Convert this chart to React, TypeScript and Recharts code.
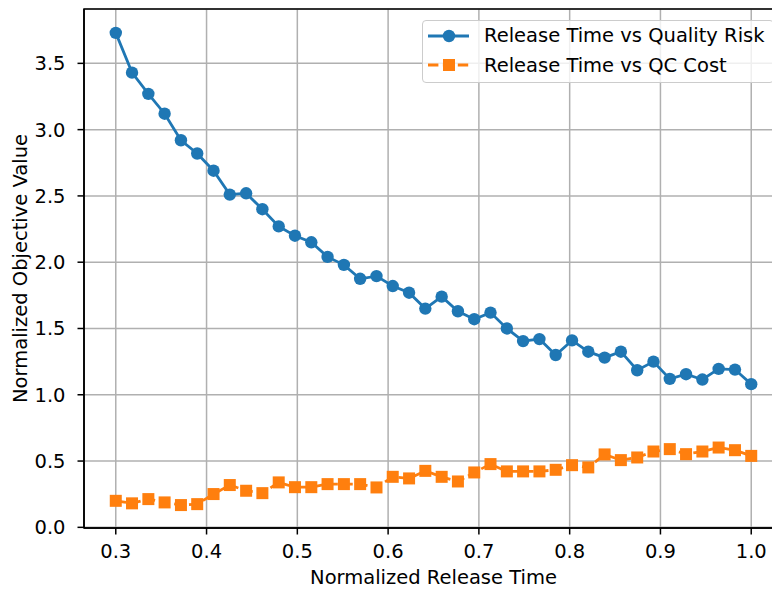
import React from 'react';
import { LineChart, Line, XAxis, YAxis, CartesianGrid, ReferenceArea } from 'recharts';

const releaseTime = [
  0.3, 0.3179, 0.3359, 0.3538, 0.3718, 0.3897, 0.4077, 0.4256, 0.4436, 0.4615,
  0.4795, 0.4974, 0.5154, 0.5333, 0.5513, 0.5692, 0.5872, 0.6051, 0.6231, 0.641,
  0.659, 0.6769, 0.6949, 0.7128, 0.7308, 0.7487, 0.7667, 0.7846, 0.8026, 0.8205,
  0.8385, 0.8564, 0.8744, 0.8923, 0.9103, 0.9282, 0.9462, 0.9641, 0.9821, 1.0,
];

const qualityRisk = [
  3.73, 3.43, 3.27, 3.12, 2.92, 2.82, 2.69, 2.51, 2.52, 2.4,
  2.27, 2.2, 2.15, 2.04, 1.98, 1.875, 1.895, 1.82, 1.77, 1.65,
  1.74, 1.63, 1.57, 1.62, 1.5, 1.405, 1.42, 1.3, 1.41, 1.325,
  1.28, 1.325, 1.185, 1.25, 1.12, 1.155, 1.115, 1.195, 1.19, 1.08,
];

const qcCost = [
  0.2, 0.181, 0.213, 0.188, 0.168, 0.175, 0.251, 0.319, 0.276, 0.258,
  0.339, 0.303, 0.303, 0.326, 0.326, 0.326, 0.301, 0.381, 0.369, 0.426,
  0.381, 0.346, 0.414, 0.477, 0.422, 0.422, 0.422, 0.434, 0.469, 0.452,
  0.55, 0.507, 0.527, 0.572, 0.59, 0.552, 0.572, 0.602, 0.582, 0.539,
];

const xTicks = [0.3, 0.4, 0.5, 0.6, 0.7, 0.8, 0.9, 1.0];
const yTicks = [0, 0.5, 1.0, 1.5, 2.0, 2.5, 3.0, 3.5];
const xDomain: [number, number] = [0.265, 1.035];
const yDomain: [number, number] = [-0.005, 3.91];

const BLUE = '#1f77b4';
const ORANGE = '#ff7f0e';
const FONT = '"DejaVu Sans", sans-serif';
const FS = 19.5;

const data = releaseTime.map((x, i) => ({ x, risk: qualityRisk[i], cost: qcCost[i] }));

const circleDot = (props: any) => (
  <circle key={`c-${props.index}`} cx={props.cx} cy={props.cy} r={6.2} fill={BLUE} />
);

const squareDot = (props: any) => (
  <rect key={`s-${props.index}`} x={props.cx - 6} y={props.cy - 6} width={12} height={12} fill={ORANGE} />
);

function LegendBox() {
  const row = (color: string, dash: string | undefined, square: boolean, label: string) => (
    <div style={{ display: 'flex', alignItems: 'center', height: 29.5 }}>
      <svg width={61} height={20} style={{ flex: 'none' }}>
        <line x1={5} x2={46} y1={10} y2={10} stroke={color} strokeWidth={2.8} strokeDasharray={dash} />
        {square ? (
          <rect x={20} y={4} width={12} height={12} fill={color} />
        ) : (
          <circle cx={26} cy={10} r={6.2} fill={color} />
        )}
      </svg>
      <span style={{ fontFamily: FONT, fontSize: FS, color: '#000', whiteSpace: 'nowrap' }}>{label}</span>
    </div>
  );
  return (
    <div
      style={{
        position: 'absolute',
        left: 422,
        top: 20,
        boxSizing: 'border-box',
        width: 352,
        height: 63,
        paddingTop: 0,
        background: 'rgba(255,255,255,0.8)',
        border: '1.5px solid #cccccc',
        borderRadius: 4,
      }}
    >
      {row(BLUE, undefined, false, 'Release Time vs Quality Risk')}
      {row(ORANGE, '10.4 4.5', true, 'Release Time vs QC Cost')}
    </div>
  );
}

export default function App() {
  return (
    <div style={{ position: 'fixed', left: 0, top: 0, width: 772, height: 589, overflow: 'hidden', background: '#fff' }}>
      <LineChart width={800} height={589} data={data} margin={{ top: 9, right: 17, bottom: 0, left: 0 }}>
        <CartesianGrid stroke="#b0b0b0" strokeWidth={1.5} />
        <XAxis
          dataKey="x"
          type="number"
          domain={xDomain}
          ticks={xTicks}
          allowDataOverflow
          height={61}
          tickFormatter={(v: number) => v.toFixed(1)}
          tick={{ fill: '#000', fontSize: FS, fontFamily: FONT }}
          tickSize={6.5}
          tickMargin={10}
          axisLine={{ stroke: '#000', strokeWidth: 1.5 }}
          tickLine={{ stroke: '#000', strokeWidth: 1.5 }}
          label={(p: any) => (
            <text
              x={p.viewBox.x + p.viewBox.width / 2}
              y={p.viewBox.y + p.viewBox.height - 5}
              textAnchor="middle"
              fontFamily={FONT}
              fontSize={FS}
              fill="#000"
            >
              Normalized Release Time
            </text>
          )}
        />
        <YAxis
          type="number"
          domain={yDomain}
          ticks={yTicks}
          allowDataOverflow
          width={84}
          tickFormatter={(v: number) => v.toFixed(1)}
          tick={{ fill: '#000', fontSize: FS, fontFamily: FONT }}
          tickSize={6.5}
          tickMargin={12}
          axisLine={{ stroke: '#000', strokeWidth: 1.5 }}
          tickLine={{ stroke: '#000', strokeWidth: 1.5 }}
          label={(p: any) => (
            <text
              x={20}
              y={p.viewBox.y + p.viewBox.height / 2}
              transform={`rotate(-90, 20, ${p.viewBox.y + p.viewBox.height / 2})`}
              textAnchor="middle"
              dominantBaseline="central"
              fontFamily={FONT}
              fontSize={FS}
              fill="#000"
            >
              Normalized Objective Value
            </text>
          )}
        />
        <ReferenceArea
          x1={xDomain[0]}
          x2={xDomain[1]}
          y1={yDomain[0]}
          y2={yDomain[1]}
          fill="none"
          fillOpacity={0}
          stroke="#000"
          strokeWidth={1.5}
        />
        <Line
          dataKey="risk"
          stroke={BLUE}
          strokeWidth={2.8}
          dot={circleDot}
          activeDot={false}
          isAnimationActive={false}
        />
        <Line
          dataKey="cost"
          stroke={ORANGE}
          strokeWidth={2.8}
          strokeDasharray="10.4 4.5"
          dot={squareDot}
          activeDot={false}
          isAnimationActive={false}
        />
      </LineChart>
      <LegendBox />
    </div>
  );
}
